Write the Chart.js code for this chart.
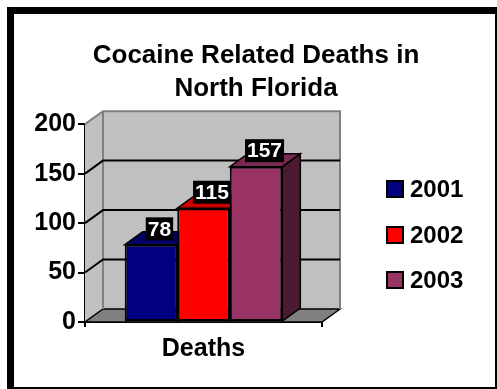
<!DOCTYPE html>
<html>
<head>
    <title>Cocaine Related Deaths in North Florida</title>
    <script src="https://cdn.jsdelivr.net/npm/chart.js"></script>
    <style>
        body { margin: 0; background: #fff; font-family: "Liberation Sans", Arial, sans-serif; }
        .frame { position: absolute; left: 7px; top: 7px; width: 490px; height: 382px; box-sizing: border-box;
                 border-left: 7px solid #000; border-top: 7px solid #000; border-right: 2px solid #000; border-bottom: 2px solid #000; }
        .chart-container { position: absolute; left: 0; top: 0; width: 497px; height: 389px; }
        #legend { position: absolute; left: 386px; top: 177px; margin: 0; padding: 0; list-style: none; }
        #legend li { display: flex; align-items: center; height: 24px; margin-bottom: 21.7px;
                     font-size: 24px; font-weight: bold; line-height: 24px; color: #000; }
        #legend .swatch { display: inline-block; width: 18px; height: 18px; box-sizing: border-box;
                          border: 2px solid #000; margin-right: 6px; }
    </style>
</head>
<body>
    <div class="frame"></div>
    <div class="chart-container">
        <canvas id="deathsChart"></canvas>
    </div>
    <ul id="legend"></ul>

    <script>
        // Data
        const categories = ['Deaths'];
        const years = ['2001', '2002', '2003'];
        const deaths = [78, 115, 157];
        const yMin = 0, yMax = 200, yStep = 50;

        // Face colours: front, top, side
        const fronts = ['#000080', '#ff0000', '#993366'];
        const tops = ['#000066', '#cc0000', '#7a2952'];
        const sides = ['#000040', '#800000', '#4c1933'];

        // Depth of the 3D box in pixels
        const DX = 18, DY = 13;

        Chart.defaults.font.family = '"Liberation Sans", Arial, sans-serif';
        Chart.defaults.font.weight = 'bold';
        Chart.defaults.color = '#000';

        function poly(ctx, pts, fill, stroke, lw) {
            ctx.beginPath();
            ctx.moveTo(pts[0][0], pts[0][1]);
            for (let i = 1; i < pts.length; i++) ctx.lineTo(pts[i][0], pts[i][1]);
            ctx.closePath();
            if (fill) { ctx.fillStyle = fill; ctx.fill(); }
            if (stroke) { ctx.strokeStyle = stroke; ctx.lineWidth = lw; ctx.stroke(); }
        }

        // Walls, floor, gridlines and the bar tops/sides go under the bar fronts
        const box3d = {
            id: 'box3d',
            beforeDatasetsDraw(chart) {
                const { ctx, chartArea: a, scales: { y } } = chart;
                ctx.save();
                // left wall, back wall, floor
                poly(ctx, [[a.left, a.bottom], [a.left, a.top], [a.left + DX, a.top - DY], [a.left + DX, a.bottom - DY]], '#c0c0c0');
                ctx.fillStyle = '#c0c0c0';
                ctx.fillRect(a.left + DX, a.top - DY, a.right - a.left, a.bottom - a.top);
                poly(ctx, [[a.left, a.bottom], [a.right, a.bottom], [a.right + DX, a.bottom - DY], [a.left + DX, a.bottom - DY]], '#808080', '#000', 1.5);

                // wall edges
                ctx.strokeStyle = '#808080';
                ctx.lineWidth = 2;
                ctx.beginPath();
                ctx.moveTo(a.left, a.top);
                ctx.lineTo(a.left + DX, a.top - DY);
                ctx.lineTo(a.right + DX, a.top - DY);
                ctx.lineTo(a.right + DX, a.bottom - DY);
                ctx.moveTo(a.left + DX, a.top - DY);
                ctx.lineTo(a.left + DX, a.bottom - DY);
                ctx.stroke();

                // gridlines across the side wall and back wall
                ctx.strokeStyle = '#000';
                ctx.lineWidth = 2;
                y.ticks.forEach(t => {
                    if (t.value <= y.min || t.value >= y.max) return;
                    const py = y.getPixelForValue(t.value);
                    ctx.beginPath();
                    ctx.moveTo(a.left, py);
                    ctx.lineTo(a.left + DX, py - DY);
                    ctx.lineTo(a.right + DX, py - DY);
                    ctx.stroke();
                });

                // tops and sides of the bars
                chart.data.datasets.forEach((ds, i) => {
                    const bar = chart.getDatasetMeta(i).data[0];
                    const { x, y: top, base, width } = bar.getProps(['x', 'y', 'base', 'width'], true);
                    const l = x - width / 2, r = x + width / 2;
                    poly(ctx, [[r, top], [r + DX, top - DY], [r + DX, base - DY], [r, base]], sides[i], '#000', 1.5);
                    poly(ctx, [[l, top], [r, top], [r + DX, top - DY], [l + DX, top - DY]], tops[i], '#000', 1.5);
                });
                ctx.restore();
            },
            // value labels on black boxes above each bar
            afterDatasetsDraw(chart) {
                const { ctx } = chart;
                ctx.save();
                ctx.font = 'bold 21px "Liberation Sans", Arial, sans-serif';
                ctx.textAlign = 'center';
                ctx.textBaseline = 'middle';
                chart.data.datasets.forEach((ds, i) => {
                    const bar = chart.getDatasetMeta(i).data[0];
                    const { x, y: top } = bar.getProps(['x', 'y'], true);
                    const text = String(ds.data[0]);
                    const w = ctx.measureText(text).width + 4, h = 23;
                    const cx = x + DX / 2 - 0.5, cy = top - 16;
                    ctx.fillStyle = '#000';
                    ctx.fillRect(cx - w / 2, cy - h / 2, w, h);
                    ctx.fillStyle = '#fff';
                    ctx.fillText(text, cx, cy + 1);
                });
                ctx.restore();
            }
        };

        // Legend as HTML list, built from the chart's own legend items
        const htmlLegend = {
            id: 'htmlLegend',
            afterUpdate(chart) {
                const ul = document.getElementById('legend');
                ul.innerHTML = '';
                const items = Chart.defaults.plugins.legend.labels.generateLabels(chart);
                items.forEach(item => {
                    const li = document.createElement('li');
                    const swatch = document.createElement('span');
                    swatch.className = 'swatch';
                    swatch.style.background = item.fillStyle;
                    const label = document.createElement('span');
                    label.textContent = item.text;
                    li.append(swatch, label);
                    ul.appendChild(li);
                });
            }
        };

        const ctx = document.getElementById('deathsChart').getContext('2d');
        const chart = new Chart(ctx, {
            type: 'bar',
            data: {
                labels: categories,
                datasets: years.map((yr, i) => ({
                    label: yr,
                    data: [deaths[i]],
                    backgroundColor: fronts[i],
                    borderColor: '#000',
                    borderWidth: 2,
                    borderSkipped: false,
                    categoryPercentage: 0.665,
                    barPercentage: 1
                }))
            },
            options: {
                responsive: true,
                maintainAspectRatio: false,
                animation: false,
                events: [],
                layout: { padding: { top: 10, left: 35, right: 20, bottom: 18 } },
                plugins: {
                    title: {
                        display: true,
                        text: ['Cocaine Related Deaths in', 'North Florida'],
                        font: { size: 26, weight: 'bold', lineHeight: 1.28 },
                        color: '#000',
                        padding: { top: 29, bottom: 18.6 }
                    },
                    legend: { display: false },
                    tooltip: { enabled: false }
                },
                scales: {
                    x: {
                        grid: { display: true, drawOnChartArea: false, tickLength: 5, color: '#000', lineWidth: 2 },
                        border: { display: true, color: '#000', width: 2 },
                        ticks: { font: { size: 25, weight: 'bold' }, padding: 7 }
                    },
                    y: {
                        min: yMin,
                        max: yMax,
                        grid: { display: true, drawOnChartArea: false, tickLength: 7, color: '#000', lineWidth: 2 },
                        border: { display: true, color: '#000', width: 2 },
                        ticks: { stepSize: yStep, font: { size: 25, weight: 'bold' }, padding: 2 },
                        afterFit: s => { s.width = 50; }
                    },
                    // room on the right for the box depth and the legend
                    depth: {
                        type: 'linear',
                        position: 'right',
                        grid: { display: false },
                        border: { display: false },
                        ticks: { display: false },
                        afterFit: s => { s.width = 155; }
                    }
                }
            },
            plugins: [box3d, htmlLegend]
        });
    </script>
</body>
</html>
